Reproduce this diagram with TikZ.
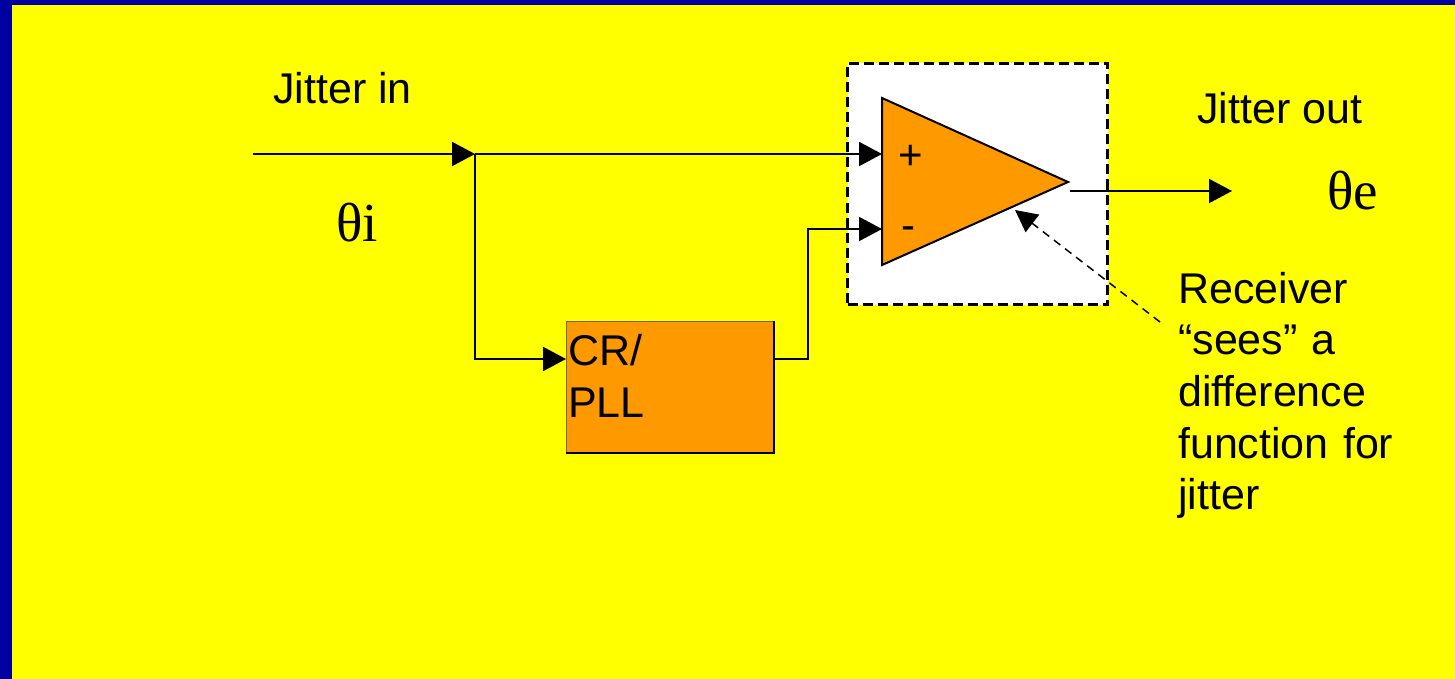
\documentclass[tikz,border=0pt]{standalone}
\usepackage{fontspec}
\setmainfont{Liberation Sans}
\newfontfamily\thetafont{Liberation Serif}
\usetikzlibrary{arrows.meta}
\definecolor{bgyellow}{RGB}{255,255,0}
\definecolor{bgblue}{RGB}{0,0,160}
\definecolor{amporange}{RGB}{255,153,0}
\tikzset{
  wire/.style={line width=2pt, draw=black},
  arr/.style={wire, -{Triangle[length=23pt,width=24pt]}},
  lbl/.style={inner sep=0pt, anchor=base west, font=\fontsize{43}{51.6}\selectfont},
  greek/.style={inner sep=0pt, anchor=base west, font=\thetafont\fontsize{55}{64}\selectfont},
  sign/.style={inner sep=0pt, font=\fontsize{42}{48}\selectfont},
}
\begin{document}
\begin{tikzpicture}[x=1pt,y=-1pt]
\useasboundingbox (0,0) rectangle (1455,679);
% background
\fill[bgblue] (0,0) rectangle (1455,679);
\fill[bgyellow] (12,5) rectangle (1455,679);
% dashed receiver box
\node[draw=black, dashed, dash pattern=on 10pt off 5pt, line width=3pt, fill=white,
      minimum width=260pt, minimum height=241pt, inner sep=0pt, anchor=north west] (rxbox) at (846,62) {};
% amplifier triangle
\coordinate (triTop) at (882,98);
\coordinate (triBot) at (882,265);
\coordinate (triApex) at (1068,182);
\filldraw[fill=amporange, draw=black, line width=2pt, line join=miter] (triTop) -- (triApex) -- (triBot) -- cycle;
\coordinate (ampP) at (882,154);
\coordinate (ampM) at (882,229);
\coordinate (ampOut) at (1070,191);
\node[sign] (plus) at (911,157) {+};
\node[sign] (minus) at (908,233) {-};
% CR/PLL box
\node[draw=black!60, line width=1pt, fill=amporange, minimum width=207pt, minimum height=131pt,
      inner sep=0pt, anchor=north west] (pll) at (566,321) {};
\draw[line width=2.5pt] (pll.north east) -- (pll.south east) -- (pll.south west);
\node[lbl] (crtext) at (568,365) {CR/};
\node[lbl] (plltext) at (568,417) {PLL};
% coordinates for wiring
\coordinate (inStart) at (253,154);
\coordinate (split) at (475,154);
\coordinate (pllIn) at (566,359);
\coordinate (pllOut) at (773,359);
\coordinate (bend) at (808,359);
\coordinate (outEnd) at (1232,191);
\coordinate (noteStart) at (1160,322);
\coordinate (noteTip) at (1015,210);
% wires
\draw[arr] (inStart) -- (split);
\draw[arr] (split) -- (ampP);
\draw[arr] (split) |- (pllIn);
\draw[arr] (pllOut) -- (bend) |- (ampM);
\draw[arr] (ampOut) -- (outEnd);
\draw[line width=1.5pt, dash pattern=on 8pt off 6pt, -{Triangle[length=22pt,width=22pt]}] (noteStart) -- (noteTip);
% labels
\node[lbl] (jin) at (273,104) {Jitter in};
\node[lbl] (jout) at (1197,124) {Jitter out};
\node[greek] (thetai) at (336,241) {θi};
\node[greek] (thetae) at (1327,209) {θe};
\node[lbl, anchor=north west, align=left, text width=250pt] (note) at (1178,272)
  {Receiver\\“sees” a\\difference\\function for\\jitter};
\end{tikzpicture}
\end{document}
